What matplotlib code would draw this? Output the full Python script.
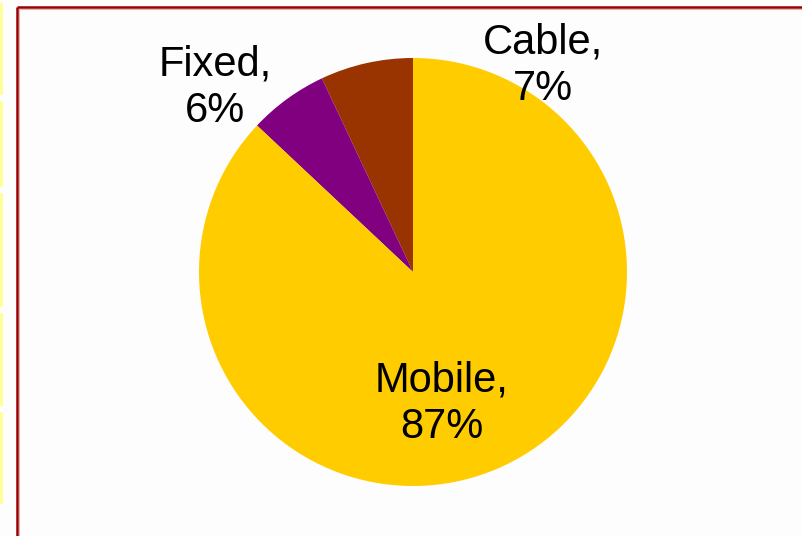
import matplotlib.pyplot as plt
from matplotlib.patches import Rectangle

plt.rcParams['font.family'] = ['Liberation Sans', 'DejaVu Sans']

# access technology shares
categories = ['Cable', 'Fixed', 'Mobile']
shares = [7, 6, 87]
colors = ['#993300', '#800080', '#FFCC00']

W, H = 802, 536
fig = plt.figure(figsize=(W / 100, H / 100), dpi=100, facecolor='#FDFDFD')
ax = fig.add_axes([0, 0, 1, 1])
ax.set_xlim(0, W)
ax.set_ylim(0, H)
ax.set_aspect('equal')
ax.axis('off')

# yellow tab strips down the left edge
for y0, y1 in [(3, 95), (101, 187), (193, 307), (313, 406), (412, 504)]:
    ax.add_patch(Rectangle((0, H - y1), 3, y1 - y0, color='#FFFF99', lw=0))

# chart area frame (runs off the right and bottom)
ax.plot([16.5, 16.5], [0, H - 6.5], color='#990000', lw=1.8, solid_capstyle='butt')
ax.plot([16.5, W], [H - 6.5, H - 6.5], color='#990000', lw=1.8, solid_capstyle='butt')
ax.plot([18.6, 18.6], [0, H - 8.6], color='#E8B0B0', lw=0.7)
ax.plot([18.6, W], [H - 8.6, H - 8.6], color='#E8B0B0', lw=0.7)

cx, cy, r = 413, H - 272, 214
ax.pie(shares, colors=colors, startangle=90, counterclock=True,
       center=(cx, cy), radius=r, frame=True,
       wedgeprops=dict(linewidth=0))
ax.set_xlim(0, W)
ax.set_ylim(0, H)
ax.axis('off')

label_pos = {'Cable': (543, 66), 'Fixed': (215, 88), 'Mobile': (442, 404)}
for name, val in zip(categories, shares):
    x, y = label_pos[name]
    ax.text(x, H - y, f'{name},\n{val}%', ha='center', va='center',
            fontsize=30, linespacing=1.2, color='black')

fig.savefig('out.png', dpi=100, facecolor=fig.get_facecolor())
